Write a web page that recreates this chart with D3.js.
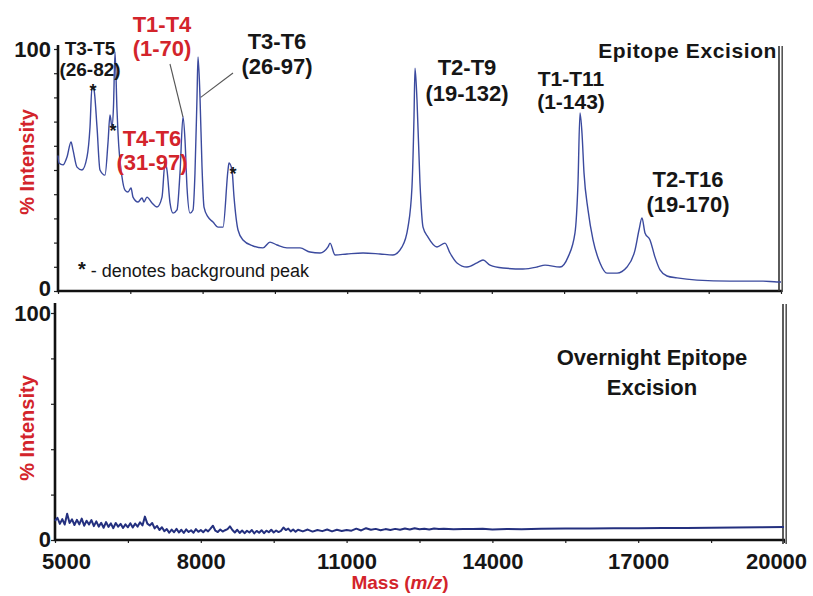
<!DOCTYPE html>
<html>
<head>
<meta charset="utf-8">
<script src="https://cdn.jsdelivr.net/npm/d3@7"></script>
<style>
  body { margin: 0; background: #fff; }
  svg { display: block; font-family: "Liberation Sans", Arial, Helvetica, sans-serif; }
</style>
</head>
<body>
<svg id="chart" width="813" height="596"></svg>
<script>
// ---- data ----------------------------------------------------------------
const massDomain = [5000, 20000];
const massLabelTicks = [5000, 8000, 11000, 14000, 17000, 20000];
const massMinorTicks = d3.range(5000, 20001, 1500);
const intensityLabelTicks = [0, 100];

// Epitope excision spectrum: [m/z, % intensity]
const epitopeSpectrum = [
  [5000, 56.0], [5021, 52.9], [5104, 52.1], [5187, 55.4], [5270, 61.6], [5311, 58.3],
  [5394, 51.2], [5498, 50.0], [5602, 55.4], [5664, 67.8], [5705, 84.3], [5747, 83.1],
  [5809, 67.8], [5871, 50.0], [5975, 47.9], [6037, 61.2], [6079, 72.7], [6120, 67.8],
  [6151, 76.0], [6183, 98.8], [6224, 74.8], [6245, 65.3], [6328, 47.1], [6390, 41.7],
  [6452, 40.9], [6515, 42.6], [6556, 38.8], [6660, 36.8], [6743, 38.4], [6784, 36.8],
  [6846, 38.8], [6950, 36.4], [7054, 34.7], [7158, 38.8], [7220, 52.9], [7261, 50.0],
  [7324, 36.4], [7386, 32.2], [7469, 33.5], [7531, 48.8], [7593, 71.9], [7635, 62.4],
  [7676, 43.0], [7739, 32.2], [7801, 33.5], [7842, 48.8], [7884, 80.2], [7905, 96.7],
  [7946, 80.2], [7988, 51.2], [8029, 34.7], [8112, 30.6], [8216, 28.5], [8320, 26.4],
  [8423, 26.4], [8527, 50.0], [8548, 52.9], [8610, 50.0], [8652, 38.8], [8735, 25.2],
  [8838, 21.1], [9046, 18.6], [9253, 17.8], [9398, 20.2], [9544, 19.0], [9751, 17.8],
  [10021, 17.8], [10228, 16.1], [10436, 15.7], [10602, 18.2], [10643, 19.8], [10747, 14.9],
  [10996, 15.3], [11328, 15.7], [11681, 15.3], [11950, 14.9], [12137, 18.2], [12261, 26.4],
  [12344, 43.0], [12386, 71.9], [12407, 92.1], [12448, 78.9], [12510, 44.6], [12573, 26.4],
  [12676, 22.3], [12863, 18.2], [13029, 19.8], [13133, 15.7], [13278, 11.6], [13485, 9.9],
  [13693, 11.6], [13818, 12.8], [13963, 10.7], [14232, 9.5], [14647, 9.1], [14938, 9.9],
  [15104, 10.7], [15415, 9.9], [15581, 14.0], [15726, 24.0], [15788, 44.6], [15830, 73.6],
  [15871, 65.3], [15913, 48.8], [15996, 33.5], [16100, 21.1], [16245, 11.6], [16390, 7.4],
  [16598, 7.4], [16805, 9.9], [16971, 16.9], [17054, 25.2], [17116, 30.2], [17178, 24.0],
  [17282, 21.1], [17386, 14.0], [17490, 8.7], [17635, 6.2], [17842, 5.4], [18257, 4.5],
  [18942, 4.1], [19627, 4.1], [19917, 3.7], [20000, 3.7]
];

// Overnight epitope excision spectrum: [m/z, % intensity]
const overnightSpectrum = [
  [5000, 8.4], [5050, 9.8], [5100, 7.1], [5150, 9.2], [5200, 6.8], [5250, 11.6], [5300, 7.5],
  [5350, 9.1], [5400, 6.6], [5450, 8.9], [5500, 6.9], [5550, 9.4], [5600, 6.3], [5650, 8.5],
  [5700, 6.8], [5750, 8.8], [5800, 6.1], [5850, 8.2], [5900, 5.9], [5950, 7.6], [6000, 5.4],
  [6050, 7.9], [6100, 5.8], [6150, 7.3], [6200, 5.2], [6250, 7.5], [6300, 5.9], [6350, 7.1],
  [6400, 5.3], [6450, 6.9], [6500, 5.6], [6550, 7.4], [6600, 5.5], [6650, 7.2], [6700, 5.9],
  [6750, 7.8], [6800, 6.4], [6850, 10.3], [6900, 7.2], [6950, 6.4], [7000, 7.5], [7050, 5.1],
  [7100, 6.2], [7150, 4.4], [7200, 5.6], [7250, 3.9], [7300, 4.8], [7350, 3.2], [7400, 4.6],
  [7450, 3.4], [7500, 4.9], [7550, 3.3], [7600, 4.5], [7650, 3.1], [7700, 4.7], [7750, 3.5],
  [7800, 4.3], [7850, 3.2], [7900, 4.8], [7950, 3.6], [8000, 4.4], [8050, 3.4], [8100, 4.6],
  [8150, 3.8], [8200, 5.0], [8250, 6.3], [8300, 4.1], [8350, 3.5], [8400, 4.6], [8450, 3.7],
  [8500, 4.3], [8550, 4.8], [8600, 6.0], [8650, 4.4], [8700, 3.3], [8750, 4.5], [8800, 3.1],
  [8850, 4.2], [8900, 3.0], [8950, 4.1], [9000, 3.3], [9050, 4.4], [9100, 2.9], [9150, 4.0],
  [9200, 3.2], [9250, 4.3], [9300, 3.0], [9350, 4.1], [9400, 3.4], [9450, 4.5], [9500, 3.3],
  [9550, 4.2], [9600, 3.5], [9650, 4.0], [9700, 5.5], [9750, 4.4], [9800, 5.0], [9850, 3.8],
  [9900, 4.6], [9950, 3.6], [10000, 4.5], [10100, 3.8], [10200, 4.6], [10300, 3.7], [10400, 4.4],
  [10500, 3.9], [10600, 4.6], [10700, 3.8], [10800, 4.5], [10900, 4.0], [11000, 4.4], [11100, 4.1],
  [11200, 5.0], [11300, 4.2], [11400, 5.2], [11500, 4.5], [11600, 4.9], [11700, 4.3], [11800, 4.8],
  [11900, 4.4], [12000, 4.9], [12100, 4.5], [12200, 5.1], [12300, 4.6], [12400, 5.2], [12500, 4.7],
  [12600, 5.0], [12700, 4.6], [12800, 5.1], [12900, 4.8], [13000, 5.0], [13200, 4.7], [13400, 4.9],
  [13600, 4.8], [13800, 5.0], [14000, 4.6], [14300, 4.9], [14600, 4.7], [15000, 5.0], [15500, 5.1],
  [16000, 5.1], [16500, 5.2], [17000, 5.2], [17500, 5.3], [18000, 5.3], [18500, 5.4], [19000, 5.5],
  [19500, 5.6], [20000, 5.7]
];

// Peak assignments (fragment name, residue range)
const peakNames  = ["T3-T5", "T1-T4", "T3-T6", "T4-T6", "T2-T9", "T1-T11", "T2-T16"];
const peakRanges = ["(26-82)", "(1-70)", "(26-97)", "(31-97)", "(19-132)", "(1-143)", "(19-170)"];
// m/z of peaks marked as background (asterisks)
const backgroundPeaks = [5705, 6120, 8610];

// ---- layout ---------------------------------------------------------------
const RED = "#d3242b";
const INK = "#161616";
const svg = d3.select("#chart");

const upper = { x0: 58, x1: 781, y0: 291, y1: 49 };
const lower = { x0: 55, x1: 784, y0: 540, y1: 313 };

const xTop = d3.scaleLinear().domain(massDomain).range([upper.x0, upper.x1]);
const yTop = d3.scaleLinear().domain([0, 100]).range([upper.y0, upper.y1]);
const xBot = d3.scaleLinear().domain(massDomain).range([lower.x0, lower.x1]);
const yBot = d3.scaleLinear().domain([0, 100]).range([lower.y0, lower.y1]);

function styleAxis(g) {
  g.select(".domain").remove();
  g.selectAll(".tick line").attr("stroke", "#222").attr("stroke-width", 1.2);
  g.selectAll(".tick text").attr("fill", INK).attr("font-weight", "bold")
    .attr("font-size", 22).attr("font-family", "\"Liberation Sans\", Arial, sans-serif");
}

// ---------- upper panel ----------
const gTop = svg.append("g");

gTop.append("g")
  .attr("transform", `translate(${upper.x0},0)`)
  .call(d3.axisLeft(yTop).tickValues(d3.range(0, 101, 10)).tickSize(4).tickPadding(3)
    .tickFormat(d => intensityLabelTicks.includes(d) ? d : ""))
  .call(styleAxis)
  .call(g => g.selectAll(".tick text").attr("dy", d => d === 0 ? "0.22em" : "0.34em"));

gTop.append("g")
  .attr("transform", `translate(0,${upper.y0})`)
  .call(d3.axisBottom(xTop).tickValues(massMinorTicks).tickSize(3).tickFormat(""))
  .call(styleAxis);

// axis frame lines
gTop.append("line").attr("x1", upper.x0).attr("x2", upper.x0).attr("y1", 45).attr("y2", upper.y0 + 1.2)
  .attr("stroke", "#111").attr("stroke-width", 2.6);
gTop.append("line").attr("x1", upper.x0).attr("x2", upper.x1 + 1).attr("y1", upper.y0).attr("y2", upper.y0)
  .attr("stroke", "#111").attr("stroke-width", 2.6);
gTop.append("line").attr("x1", upper.x1 - 2).attr("x2", upper.x1 - 2).attr("y1", 46).attr("y2", upper.y0)
  .attr("stroke", "#333").attr("stroke-width", 1.6);
gTop.append("line").attr("x1", upper.x1 + 1.2).attr("x2", upper.x1 + 1.2).attr("y1", 46).attr("y2", upper.y0 + 1)
  .attr("stroke", "#555").attr("stroke-width", 1.6);

const lineTop = d3.line().curve(d3.curveMonotoneX).x(d => xTop(d[0])).y(d => yTop(d[1]));
gTop.append("path").datum(epitopeSpectrum)
  .attr("d", lineTop).attr("fill", "none")
  .attr("stroke", "#3b4a9e").attr("stroke-width", 1.4).attr("stroke-linejoin", "round");

// background-peak asterisks
backgroundPeaks.forEach(m => {
  const p = epitopeSpectrum.find(d => d[0] === m);
  gTop.append("text").attr("x", xTop(p[0]) + 1).attr("y", yTop(p[1]) + 10)
    .attr("text-anchor", "middle").attr("font-size", 18).attr("font-weight", "bold")
    .attr("fill", INK).text("*");
});

// leader lines from labels to peaks
const leader = [
  { from: [170, 64], to: [7593, 71.9] },
  { from: [233, 73], to: [7960, 80] }
];
leader.forEach(l => {
  gTop.append("line").attr("x1", l.from[0]).attr("y1", l.from[1])
    .attr("x2", xTop(l.to[0])).attr("y2", yTop(l.to[1]))
    .attr("stroke", "#555").attr("stroke-width", 1.1);
});

// peak labels: [centre x, name baseline, range baseline, size, colour]
const labelPos = [
  [90, 55, 76, 19, INK],
  [162, 32, 56, 22, RED],
  [277, 49, 74, 22, INK],
  [152, 146, 170, 22, RED],
  [467, 75, 101, 22, INK],
  [571, 86, 109, 21, INK],
  [688, 187, 212, 22, INK]
];
peakNames.forEach((name, i) => {
  const [cx, y1, y2, fs, col] = labelPos[i];
  const t = gTop.append("g").attr("font-weight", "bold").attr("font-size", fs)
    .attr("fill", col).attr("text-anchor", "middle");
  t.append("text").attr("x", cx).attr("y", y1).text(name);
  t.append("text").attr("x", cx).attr("y", y2).text(peakRanges[i]);
});

gTop.append("text").attr("x", 777).attr("y", 58).attr("text-anchor", "end")
  .attr("font-weight", "bold").attr("font-size", 21).attr("letter-spacing", 0.6)
  .attr("fill", INK).text("Epitope Excision");

const note = gTop.append("text").attr("x", 78).attr("y", 277)
  .attr("font-size", 18).attr("fill", INK);
note.append("tspan").attr("font-weight", "bold").attr("font-size", 20).attr("dy", -1).text("*");
note.append("tspan").attr("dy", 1).text(" - denotes background peak");

gTop.append("text").attr("transform", "translate(34,162) rotate(-90)")
  .attr("text-anchor", "middle").attr("font-weight", "bold").attr("font-size", 20)
  .attr("fill", RED).text("% Intensity");

// ---------- lower panel ----------
const gBot = svg.append("g");

gBot.append("g")
  .attr("transform", `translate(${lower.x0},0)`)
  .call(d3.axisLeft(yBot).tickValues(d3.range(0, 101, 20)).tickSize(4).tickPadding(0)
    .tickFormat(d => intensityLabelTicks.includes(d) ? d : ""))
  .call(styleAxis)
  .call(g => g.selectAll(".tick text").attr("dy", d => d === 0 ? "0.28em" : "0.34em"));

gBot.append("g")
  .attr("transform", `translate(0,${lower.y0})`)
  .call(d3.axisBottom(xBot).tickValues(massMinorTicks).tickSize(3).tickPadding(6)
    .tickFormat(d => massLabelTicks.includes(d) ? d : ""))
  .call(styleAxis)
  .call(g => g.selectAll(".tick text")
    .attr("dx", d => d === 5000 ? 11 : d === 20000 ? -8 : 0)
    .attr("dy", "0.9em"));

gBot.append("line").attr("x1", lower.x0).attr("x2", lower.x0).attr("y1", 303).attr("y2", lower.y0 + 1.2)
  .attr("stroke", "#111").attr("stroke-width", 2.6);
gBot.append("line").attr("x1", lower.x0).attr("x2", lower.x1 + 1).attr("y1", lower.y0).attr("y2", lower.y0)
  .attr("stroke", "#111").attr("stroke-width", 2.6);
gBot.append("line").attr("x1", lower.x1 - 1).attr("x2", lower.x1 - 1).attr("y1", 304).attr("y2", lower.y0 + 4)
  .attr("stroke", "#333").attr("stroke-width", 1.6);
gBot.append("line").attr("x1", lower.x1 + 2.2).attr("x2", lower.x1 + 2.2).attr("y1", 304).attr("y2", lower.y0 + 4)
  .attr("stroke", "#555").attr("stroke-width", 1.6);

const lineBot = d3.line().x(d => xBot(d[0])).y(d => yBot(d[1]));
gBot.append("path").datum(overnightSpectrum)
  .attr("d", lineBot).attr("fill", "none")
  .attr("stroke", "#24307f").attr("stroke-width", 2).attr("stroke-linejoin", "round");

gBot.append("text").attr("x", 652).attr("y", 365).attr("text-anchor", "middle")
  .attr("font-weight", "bold").attr("font-size", 22).attr("fill", INK).text("Overnight Epitope");
gBot.append("text").attr("x", 652).attr("y", 395).attr("text-anchor", "middle")
  .attr("font-weight", "bold").attr("font-size", 22).attr("fill", INK).text("Excision");

gBot.append("text").attr("transform", "translate(34,428) rotate(-90)")
  .attr("text-anchor", "middle").attr("font-weight", "bold").attr("font-size", 20)
  .attr("fill", RED).text("% Intensity");

// x-axis title
const xt = svg.append("text").attr("x", 400).attr("y", 589).attr("text-anchor", "middle")
  .attr("font-weight", "bold").attr("font-size", 19).attr("fill", RED);
xt.append("tspan").text("Mass (");
xt.append("tspan").attr("font-style", "italic").text("m/z");
xt.append("tspan").text(")");
</script>
</body>
</html>
